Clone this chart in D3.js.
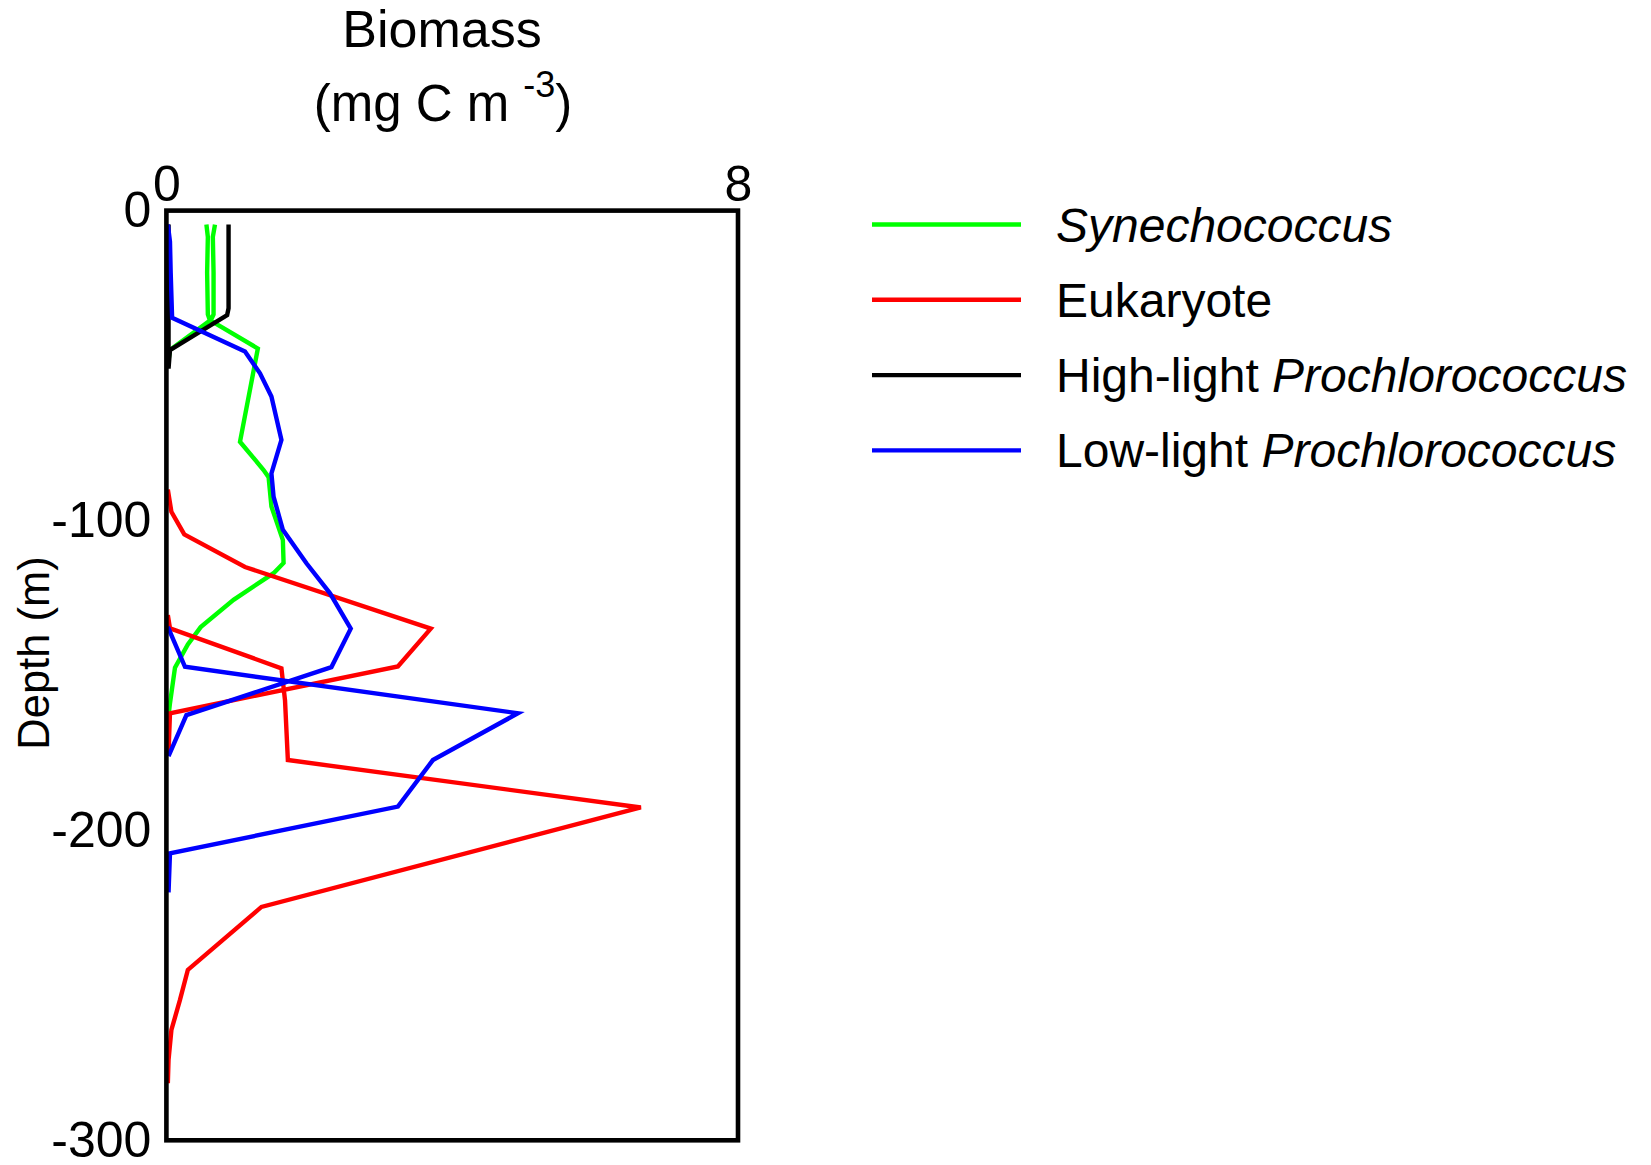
<!DOCTYPE html>
<html>
<head>
<meta charset="utf-8">
<script src="https://cdn.jsdelivr.net/npm/d3@7"></script>
<style>
  html, body { margin: 0; padding: 0; background: #fff; }
  svg { display: block; font-family: "Liberation Sans", Arial, Helvetica, sans-serif; }
</style>
</head>
<body>
<svg id="chart" width="1651" height="1165"></svg>
<script>
// Depth profiles of phytoplankton biomass (mg C m^-3).
// Each series may hold several casts; a null depth separates one cast from the next.

const xTicks = [0, 8];
const yTicks = [0, -100, -200, -300];

// Synechococcus
const synDepth = [-4.5, -8.5, -20, -33.5, -35.5, -45, -50, null,
  -4.5, -8.5, -20, -33.5, -35.5, -44.5, -74.6, -83.7, -86, -95.5, -106.3, -113.7, -117, -125.6, -134.4, -140, -147.5, -159, -163];
const synValue = [0.56, 0.58, 0.57, 0.58, 0.61, 0.05, 0.02, null,
  0.68, 0.65, 0.66, 0.66, 0.62, 1.28, 1.03, 1.36, 1.43, 1.47, 1.63, 1.64, 1.5, 0.94, 0.48, 0.3, 0.12, 0.05, 0.03];

// Eukaryote
const eukDepth = [-90, -97.2, -104.5, -115, -134.9, -147.1, -162.2, -175, null,
  -130.5, -134.8, -147.7, -158, -177.3, -192.6, -224.7, -245, -254.7, -264.4, -274, -281.6];
const eukValue = [0.02, 0.07, 0.25, 1.1, 3.7, 3.24, 0.05, 0.03, null,
  0.02, 0.05, 1.61, 1.66, 1.7, 6.64, 1.33, 0.3, 0.19, 0.07, 0.03, 0.02];

// High-light Prochlorococcus
const hlDepth = [-4.5, -20, -35, -45, -51, null,
  -4.5, -20, -31.5, -33.7, -45, -51];
const hlValue = [0.03, 0.03, 0.03, 0.03, 0.03, null,
  0.87, 0.87, 0.87, 0.85, 0.05, 0.03];

// Low-light Prochlorococcus
const llDepth = [-4.5, -10, -20, -34.6, -45.5, -52.5, -60, -74, -84.8, -92.3, -103, -113.8, -123.5, -134.9, -147.3, -162.8, -176, null,
  -134.3, -147.2, -162.2, -177.3, -192.3, -207.4, -220];
const llValue = [0.02, 0.05, 0.06, 0.08, 1.1, 1.31, 1.47, 1.61, 1.47, 1.5, 1.63, 1.96, 2.29, 2.58, 2.31, 0.28, 0.03, null,
  0.02, 0.26, 4.92, 3.73, 3.24, 0.05, 0.03];

const seriesNames = ["Synechococcus", "Eukaryote", "High-light Prochlorococcus", "Low-light Prochlorococcus"];
const seriesColors = ["#00ff00", "#ff0000", "#000000", "#0000ff"];
const seriesDepths = [synDepth, eukDepth, hlDepth, llDepth];
const seriesValues = [synValue, eukValue, hlValue, llValue];

// Legend labels: [text, italic?] runs
const legendRuns = [
  [["Synechococcus", true]],
  [["Eukaryote", false]],
  [["High-light ", false], ["Prochlorococcus", true]],
  [["Low-light ", false], ["Prochlorococcus", true]]
];

const svg = d3.select("#chart");
svg.append("rect").attr("width", 1651).attr("height", 1165).attr("fill", "#fff");

const plot = { left: 166.4, right: 738, top: 210.6, bottom: 1140.3 };
const x = d3.scaleLinear().domain([0, 8]).range([plot.left, plot.right]);
const y = d3.scaleLinear().domain([0, -300]).range([plot.top, plot.bottom]);

// profile lines
const line = d3.line()
  .defined(d => d.depth !== null && d.value !== null)
  .x(d => x(d.value))
  .y(d => y(d.depth));

seriesNames.forEach((name, i) => {
  const pts = seriesDepths[i].map((dep, j) => ({ depth: dep, value: seriesValues[i][j] }));
  svg.append("path")
    .datum(pts)
    .attr("fill", "none")
    .attr("stroke", seriesColors[i])
    .attr("stroke-width", 4.4)
    .attr("stroke-linejoin", "miter")
    .attr("d", line);
});

// frame
svg.append("rect")
  .attr("x", plot.left).attr("y", plot.top)
  .attr("width", plot.right - plot.left).attr("height", plot.bottom - plot.top)
  .attr("fill", "none").attr("stroke", "#000").attr("stroke-width", 4.6);

// axes (labels only, no tick marks)
const topAxis = svg.append("g")
  .attr("transform", `translate(0,${plot.top})`)
  .call(d3.axisTop(x).tickValues(xTicks).tickSize(0).tickPadding(10).tickFormat(d => String(d)));
const leftAxis = svg.append("g")
  .attr("transform", `translate(${plot.left},0)`)
  .call(d3.axisLeft(y).tickValues(yTicks).tickSize(0).tickPadding(15).tickFormat(d => String(d)));
[topAxis, leftAxis].forEach(g => {
  g.select(".domain").remove();
  g.selectAll("text")
    .attr("font-family", "'Liberation Sans', Arial, Helvetica, sans-serif")
    .attr("font-size", 50)
    .attr("fill", "#000");
});

// x-axis title
svg.append("text")
  .attr("x", 442).attr("y", 47)
  .attr("text-anchor", "middle")
  .attr("font-size", 52)
  .text("Biomass");
const unit = svg.append("text")
  .attr("x", 443).attr("y", 121)
  .attr("text-anchor", "middle")
  .attr("font-size", 51);
unit.append("tspan").text("(mg C m ");
unit.append("tspan").attr("font-size", 36).attr("dy", -24).text("-3");
unit.append("tspan").attr("dy", 24).text(")");

// y-axis title
svg.append("text")
  .attr("transform", "translate(34,653) rotate(-90)")
  .attr("text-anchor", "middle")
  .attr("dominant-baseline", "central")
  .attr("font-size", 43.5)
  .text("Depth (m)");

// legend
const legend = svg.append("g");
seriesNames.forEach((name, i) => {
  const ly = 224.5 + i * 75.3;
  legend.append("line")
    .attr("x1", 872).attr("x2", 1021)
    .attr("y1", ly).attr("y2", ly)
    .attr("stroke", seriesColors[i]).attr("stroke-width", 4.4);
  const t = legend.append("text")
    .attr("x", 1056).attr("y", ly + 17)
    .attr("font-size", 48);
  legendRuns[i].forEach(([txt, it]) => {
    t.append("tspan").attr("font-style", it ? "italic" : "normal").text(txt);
  });
});
</script>
</body>
</html>
